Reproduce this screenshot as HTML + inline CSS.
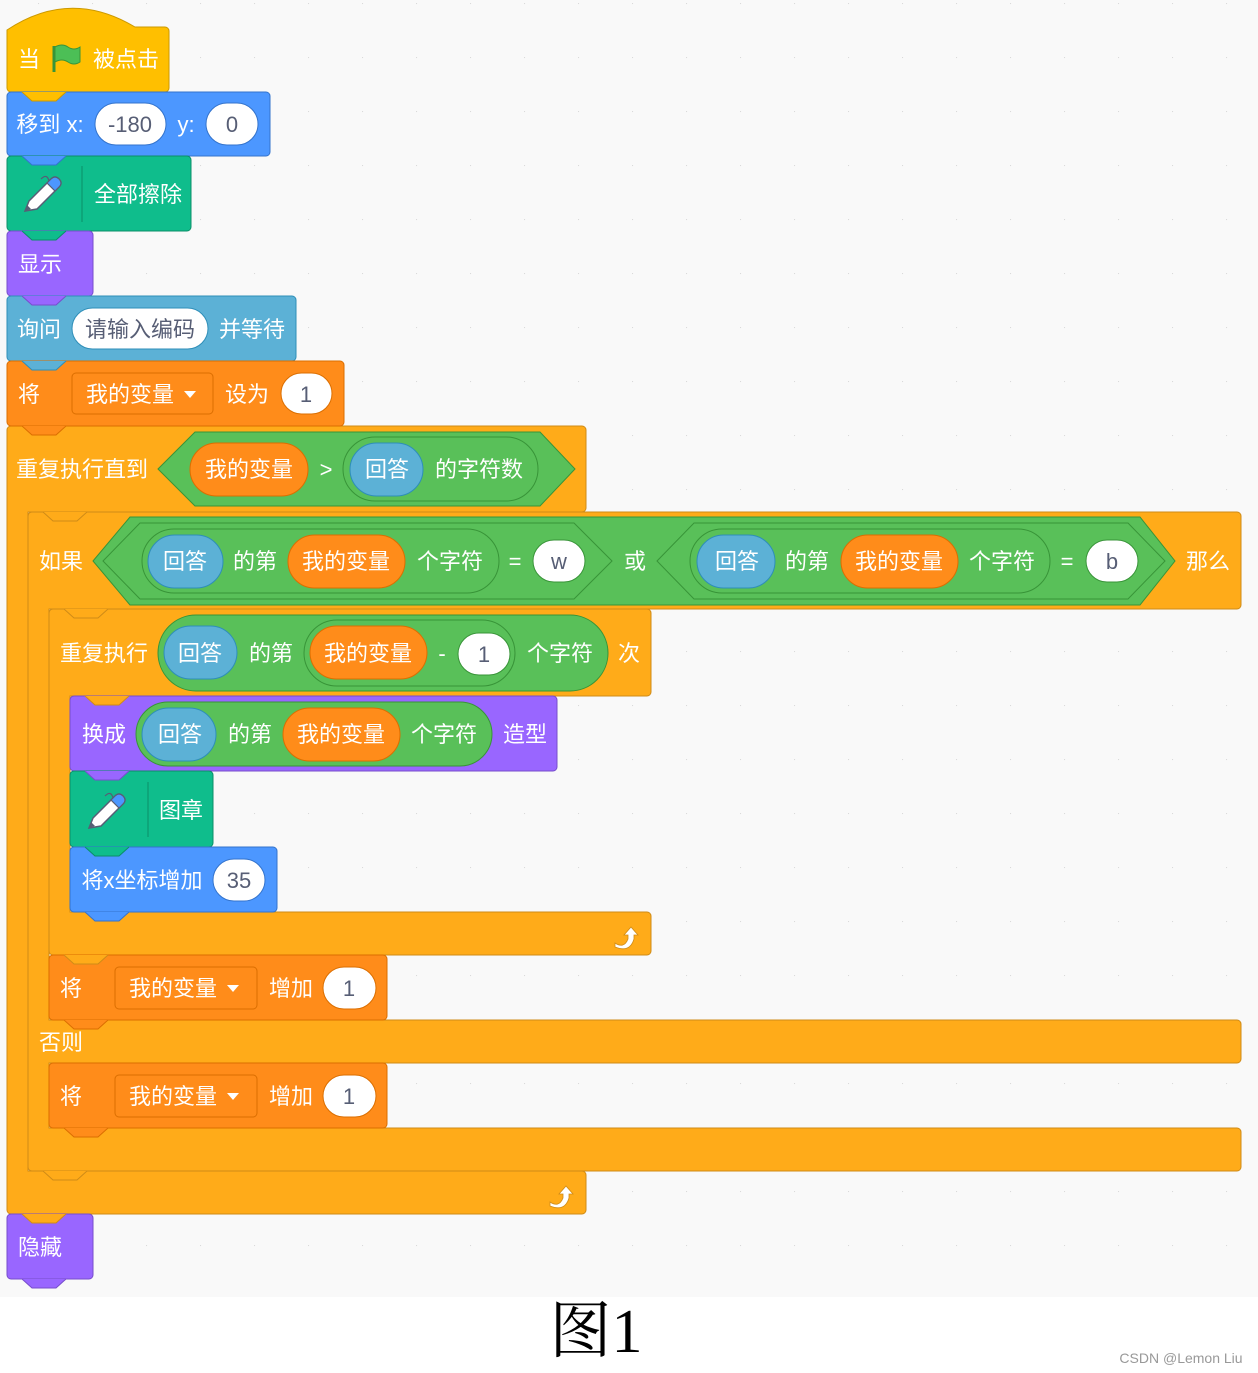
<!DOCTYPE html>
<html><head><meta charset="utf-8"><style>
html,body{margin:0;padding:0;background:#fff}
svg{display:block}
text{font-family:"Liberation Sans","Noto Sans CJK SC",sans-serif;font-size:22px;fill:#fff;text-anchor:middle}
.d{fill:#575E75}
</style></head><body>
<svg width="1258" height="1373" viewBox="0 0 1258 1373" xmlns="http://www.w3.org/2000/svg">
<defs>
<pattern id="dots" x="38" y="3" width="54" height="54" patternUnits="userSpaceOnUse">
<circle cx="0" cy="0" r="1.2" fill="#d8d8d8"/>
</pattern>
<g id="pen">
<path d="M0,34 L4,24 L26,2 Q30,-2 34,2 Q38,6 34,10 L12,32 Z" fill="#fff" stroke="#575E75" stroke-width="1.5"/>
<path d="M22,6 L26,2 Q30,-2 34,2 Q38,6 34,10 L30,14 Z" fill="#4C97FF" stroke="#575E75" stroke-width="1.2"/>
<path d="M0,34 L2,28 L6,32 Z" fill="#575E75"/>
<path d="M24,4 Q22,-4 16,2" fill="none" stroke="#575E75" stroke-width="1.2"/>
</g>
<g id="loop"><path d="M-9,6 Q0,12 4,2 L4,-2 L0,-2 L7,-10 L14,-2 L10,-2 L10,2 Q6,16 -9,10 Z" fill="#fff" stroke="#CF8B17" stroke-width="0.8"/></g>
</defs>
<rect x="0" y="0" width="1258" height="1297" fill="#F9F9F9"/>
<rect x="0" y="0" width="1258" height="1297" fill="url(#dots)"/>

<!-- repeat until C -->
<path d="M11,426 H582 a4,4 0 0 1 4,4 V508 a4,4 0 0 1 -4,4 H28 V1171 H582 a4,4 0 0 1 4,4 V1210 a4,4 0 0 1 -4,4 H11 a4,4 0 0 1 -4,-4 V430 a4,4 0 0 1 4,-4 Z" fill="#FFAB19" stroke="#CF8B17"/>
<!-- if else C -->
<path d="M32,512 H1237 a4,4 0 0 1 4,4 V605 a4,4 0 0 1 -4,4 H49 V1020 H1237 a4,4 0 0 1 4,4 V1059 a4,4 0 0 1 -4,4 H49 V1128 H1237 a4,4 0 0 1 4,4 V1167 a4,4 0 0 1 -4,4 H32 a4,4 0 0 1 -4,-4 V516 a4,4 0 0 1 4,-4 Z" fill="#FFAB19" stroke="#CF8B17"/>
<!-- repeat C -->
<path d="M53,609 H647 a4,4 0 0 1 4,4 V692 a4,4 0 0 1 -4,4 H70 V912 H647 a4,4 0 0 1 4,4 V951 a4,4 0 0 1 -4,4 H53 a4,4 0 0 1 -4,-4 V613 a4,4 0 0 1 4,-4 Z" fill="#FFAB19" stroke="#CF8B17"/>

<!-- stack blocks -->
<path d="M7,88 V30 Q70,-12 135,27 H165 a4,4 0 0 1 4,4 V88 a4,4 0 0 1 -4,4 H11 a4,4 0 0 1 -4,-4 Z" fill="#FFBF00" stroke="#CC9900"/>
<rect x="7" y="92" width="263" height="64" rx="4" fill="#4C97FF" stroke="#3373CC"/>
<rect x="7" y="156" width="184" height="75" rx="4" fill="#0FBD8C" stroke="#0B8E69"/>
<rect x="7" y="231" width="86" height="65" rx="4" fill="#9966FF" stroke="#774DCB"/>
<rect x="7" y="296" width="289" height="65" rx="4" fill="#5CB1D6" stroke="#2E8EB8"/>
<rect x="7" y="361" width="337" height="65" rx="4" fill="#FF8C1A" stroke="#DB6E00"/>
<rect x="70" y="696" width="487" height="75" rx="4" fill="#9966FF" stroke="#774DCB"/>
<rect x="70" y="771" width="143" height="76" rx="4" fill="#0FBD8C" stroke="#0B8E69"/>
<rect x="70" y="847" width="207" height="65" rx="4" fill="#4C97FF" stroke="#3373CC"/>
<rect x="49" y="955" width="338" height="65" rx="4" fill="#FF8C1A" stroke="#DB6E00"/>
<rect x="49" y="1063" width="338" height="65" rx="4" fill="#FF8C1A" stroke="#DB6E00"/>
<rect x="7" y="1214" width="86" height="65" rx="4" fill="#9966FF" stroke="#774DCB"/>

<!-- tabs -->
<g stroke-width="1">
<path d="M22,92 L32,101 H56 L66,92" fill="#FFBF00" stroke="#CC9900"/>
<path d="M22,156 L32,165 H56 L66,156" fill="#4C97FF" stroke="#3373CC"/>
<path d="M22,231 L32,240 H56 L66,231" fill="#0FBD8C" stroke="#0B8E69"/>
<path d="M22,296 L32,305 H56 L66,296" fill="#9966FF" stroke="#774DCB"/>
<path d="M22,361 L32,370 H56 L66,361" fill="#5CB1D6" stroke="#2E8EB8"/>
<path d="M22,426 L32,435 H56 L66,426" fill="#FF8C1A" stroke="#DB6E00"/>
<path d="M43,512 L53,521 H77 L87,512" fill="#FFAB19" stroke="#CF8B17"/>
<path d="M64,609 L74,618 H98 L108,609" fill="#FFAB19" stroke="#CF8B17"/>
<path d="M85,696 L95,705 H119 L129,696" fill="#FFAB19" stroke="#CF8B17"/>
<path d="M85,771 L95,780 H119 L129,771" fill="#9966FF" stroke="#774DCB"/>
<path d="M85,847 L95,856 H119 L129,847" fill="#0FBD8C" stroke="#0B8E69"/>
<path d="M85,912 L95,921 H119 L129,912" fill="#4C97FF" stroke="#3373CC"/>
<path d="M64,955 L74,964 H98 L108,955" fill="#FFAB19" stroke="#CF8B17"/>
<path d="M64,1020 L74,1029 H98 L108,1020" fill="#FF8C1A" stroke="#DB6E00"/>
<path d="M64,1128 L74,1137 H98 L108,1128" fill="#FF8C1A" stroke="#DB6E00"/>
<path d="M43,1171 L53,1180 H77 L87,1171" fill="#FFAB19" stroke="#CF8B17"/>
<path d="M22,1214 L32,1223 H56 L66,1214" fill="#FFAB19" stroke="#CF8B17"/>
<path d="M22,1279 L32,1288 H56 L66,1279" fill="#9966FF" stroke="#774DCB"/>
</g>

<!-- hat -->
<text x="29" y="67">当</text>
<path d="M54,46 V72" stroke="#389438" stroke-width="3"/>
<path d="M55,47 Q62,43 68,47 Q74,51 80,47 V62 Q74,66 68,62 Q62,58 55,62 Z" fill="#4CBF56" stroke="#389438"/>
<text x="126" y="67">被点击</text>

<!-- move -->
<text x="50" y="132">移到 x:</text>
<rect x="95" y="103" width="71" height="42" rx="21" fill="#fff" stroke="#3373CC"/>
<text x="130" y="132" class="d">-180</text>
<text x="186" y="132">y:</text>
<rect x="206" y="103" width="52" height="42" rx="21" fill="#fff" stroke="#3373CC"/>
<text x="232" y="132" class="d">0</text>

<!-- clear -->
<use href="#pen" x="25" y="177"/>
<line x1="82" y1="166" x2="82" y2="222" stroke="#0B8E69"/>
<text x="138" y="202">全部擦除</text>

<text x="40" y="272">显示</text>

<text x="39" y="337">询问</text>
<rect x="72" y="308" width="136" height="41" rx="20.5" fill="#fff" stroke="#2E8EB8"/>
<text x="140" y="337" class="d">请输入编码</text>
<text x="252" y="337">并等待</text>

<text x="29" y="402">将</text>
<rect x="72" y="373" width="141" height="41" rx="4" fill="#FF8C1A" stroke="#DB6E00"/>
<text x="130" y="402">我的变量</text>
<path d="M184,391 L196,391 L190,398 Z" fill="#fff"/>
<text x="247" y="402">设为</text>
<rect x="281" y="373" width="51" height="41" rx="20.5" fill="#fff" stroke="#DB6E00"/>
<text x="306" y="402" class="d">1</text>

<!-- repeat until -->
<text x="82" y="477">重复执行直到</text>
<polygon points="158,469 195,432 540,432 575,469 540,506 195,506" fill="#59C059" stroke="#389438"/>
<rect x="190" y="443" width="118" height="53" rx="26.5" fill="#FF8C1A" stroke="#DB6E00"/>
<text x="249" y="477">我的变量</text>
<text x="326" y="477">&gt;</text>
<rect x="343" y="437" width="195" height="64" rx="32" fill="#59C059" stroke="#389438"/>
<rect x="350" y="443" width="73" height="53" rx="26.5" fill="#5CB1D6" stroke="#2E8EB8"/>
<text x="387" y="477">回答</text>
<text x="479" y="477">的字符数</text>

<!-- if -->
<text x="61" y="569">如果</text>
<polygon points="93,561 130,517 1140,517 1175,561 1140,605 130,605" fill="#59C059" stroke="#389438"/>
<polygon points="103,561 140,523 574,523 612,561 574,599 140,599" fill="#59C059" stroke="#389438"/>
<rect x="142" y="529" width="357" height="64" rx="32" fill="#59C059" stroke="#389438"/>
<rect x="148" y="535" width="75" height="53" rx="26.5" fill="#5CB1D6" stroke="#2E8EB8"/>
<text x="185" y="569">回答</text>
<text x="255" y="569">的第</text>
<rect x="288" y="535" width="117" height="53" rx="26.5" fill="#FF8C1A" stroke="#DB6E00"/>
<text x="346" y="569">我的变量</text>
<text x="450" y="569">个字符</text>
<text x="515" y="569">=</text>
<rect x="533" y="540" width="52" height="42" rx="21" fill="#fff" stroke="#389438"/>
<text x="559" y="569" class="d">w</text>
<text x="635" y="569">或</text>
<polygon points="657,561 694,523 1128,523 1165,561 1128,599 694,599" fill="#59C059" stroke="#389438"/>
<rect x="690" y="529" width="360" height="64" rx="32" fill="#59C059" stroke="#389438"/>
<rect x="697" y="535" width="78" height="53" rx="26.5" fill="#5CB1D6" stroke="#2E8EB8"/>
<text x="737" y="569">回答</text>
<text x="807" y="569">的第</text>
<rect x="841" y="535" width="117" height="53" rx="26.5" fill="#FF8C1A" stroke="#DB6E00"/>
<text x="899" y="569">我的变量</text>
<text x="1002" y="569">个字符</text>
<text x="1067" y="569">=</text>
<rect x="1086" y="540" width="52" height="42" rx="21" fill="#fff" stroke="#389438"/>
<text x="1112" y="569" class="d">b</text>
<text x="1208" y="569">那么</text>

<!-- repeat -->
<text x="104" y="661">重复执行</text>
<rect x="158" y="615" width="450" height="76" rx="38" fill="#59C059" stroke="#389438"/>
<rect x="164" y="626" width="73" height="53" rx="26.5" fill="#5CB1D6" stroke="#2E8EB8"/>
<text x="200" y="661">回答</text>
<text x="271" y="661">的第</text>
<rect x="304" y="620" width="211" height="66" rx="33" fill="#59C059" stroke="#389438"/>
<rect x="310" y="626" width="117" height="53" rx="26.5" fill="#FF8C1A" stroke="#DB6E00"/>
<text x="368" y="661">我的变量</text>
<text x="442" y="661">-</text>
<rect x="458" y="633" width="52" height="42" rx="21" fill="#fff" stroke="#389438"/>
<text x="484" y="662" class="d">1</text>
<text x="560" y="661">个字符</text>
<text x="629" y="661">次</text>

<!-- costume -->
<text x="104" y="742">换成</text>
<rect x="136" y="702" width="356" height="64" rx="32" fill="#59C059" stroke="#389438"/>
<rect x="142" y="708" width="74" height="53" rx="26.5" fill="#5CB1D6" stroke="#2E8EB8"/>
<text x="180" y="742">回答</text>
<text x="250" y="742">的第</text>
<rect x="283" y="708" width="117" height="53" rx="26.5" fill="#FF8C1A" stroke="#DB6E00"/>
<text x="341" y="742">我的变量</text>
<text x="444" y="742">个字符</text>
<text x="525" y="742">造型</text>

<use href="#pen" x="89" y="794"/>
<line x1="148" y1="782" x2="148" y2="837" stroke="#0B8E69"/>
<text x="181" y="818">图章</text>

<text x="142" y="888">将x坐标增加</text>
<rect x="213" y="859" width="52" height="42" rx="21" fill="#fff" stroke="#3373CC"/>
<text x="239" y="888" class="d">35</text>

<use href="#loop" x="624" y="937"/>

<text x="71" y="996">将</text>
<rect x="115" y="967" width="142" height="42" rx="4" fill="#FF8C1A" stroke="#DB6E00"/>
<text x="173" y="996">我的变量</text>
<path d="M227,985 L239,985 L233,992 Z" fill="#fff"/>
<text x="291" y="996">增加</text>
<rect x="323" y="967" width="53" height="42" rx="21" fill="#fff" stroke="#DB6E00"/>
<text x="349" y="996" class="d">1</text>

<text x="61" y="1050">否则</text>

<text x="71" y="1104">将</text>
<rect x="115" y="1075" width="142" height="42" rx="4" fill="#FF8C1A" stroke="#DB6E00"/>
<text x="173" y="1104">我的变量</text>
<path d="M227,1093 L239,1093 L233,1100 Z" fill="#fff"/>
<text x="291" y="1104">增加</text>
<rect x="323" y="1075" width="53" height="42" rx="21" fill="#fff" stroke="#DB6E00"/>
<text x="349" y="1104" class="d">1</text>

<use href="#loop" x="559" y="1196"/>

<text x="40" y="1255">隐藏</text>

<text x="596" y="1352" style="font-family:'Liberation Serif','Noto Serif CJK SC',serif;font-size:62px;fill:#000">图1</text>
<text x="1181" y="1363" style="font-size:14px;fill:#999">CSDN @Lemon Liu</text>
</svg>
</body></html>
